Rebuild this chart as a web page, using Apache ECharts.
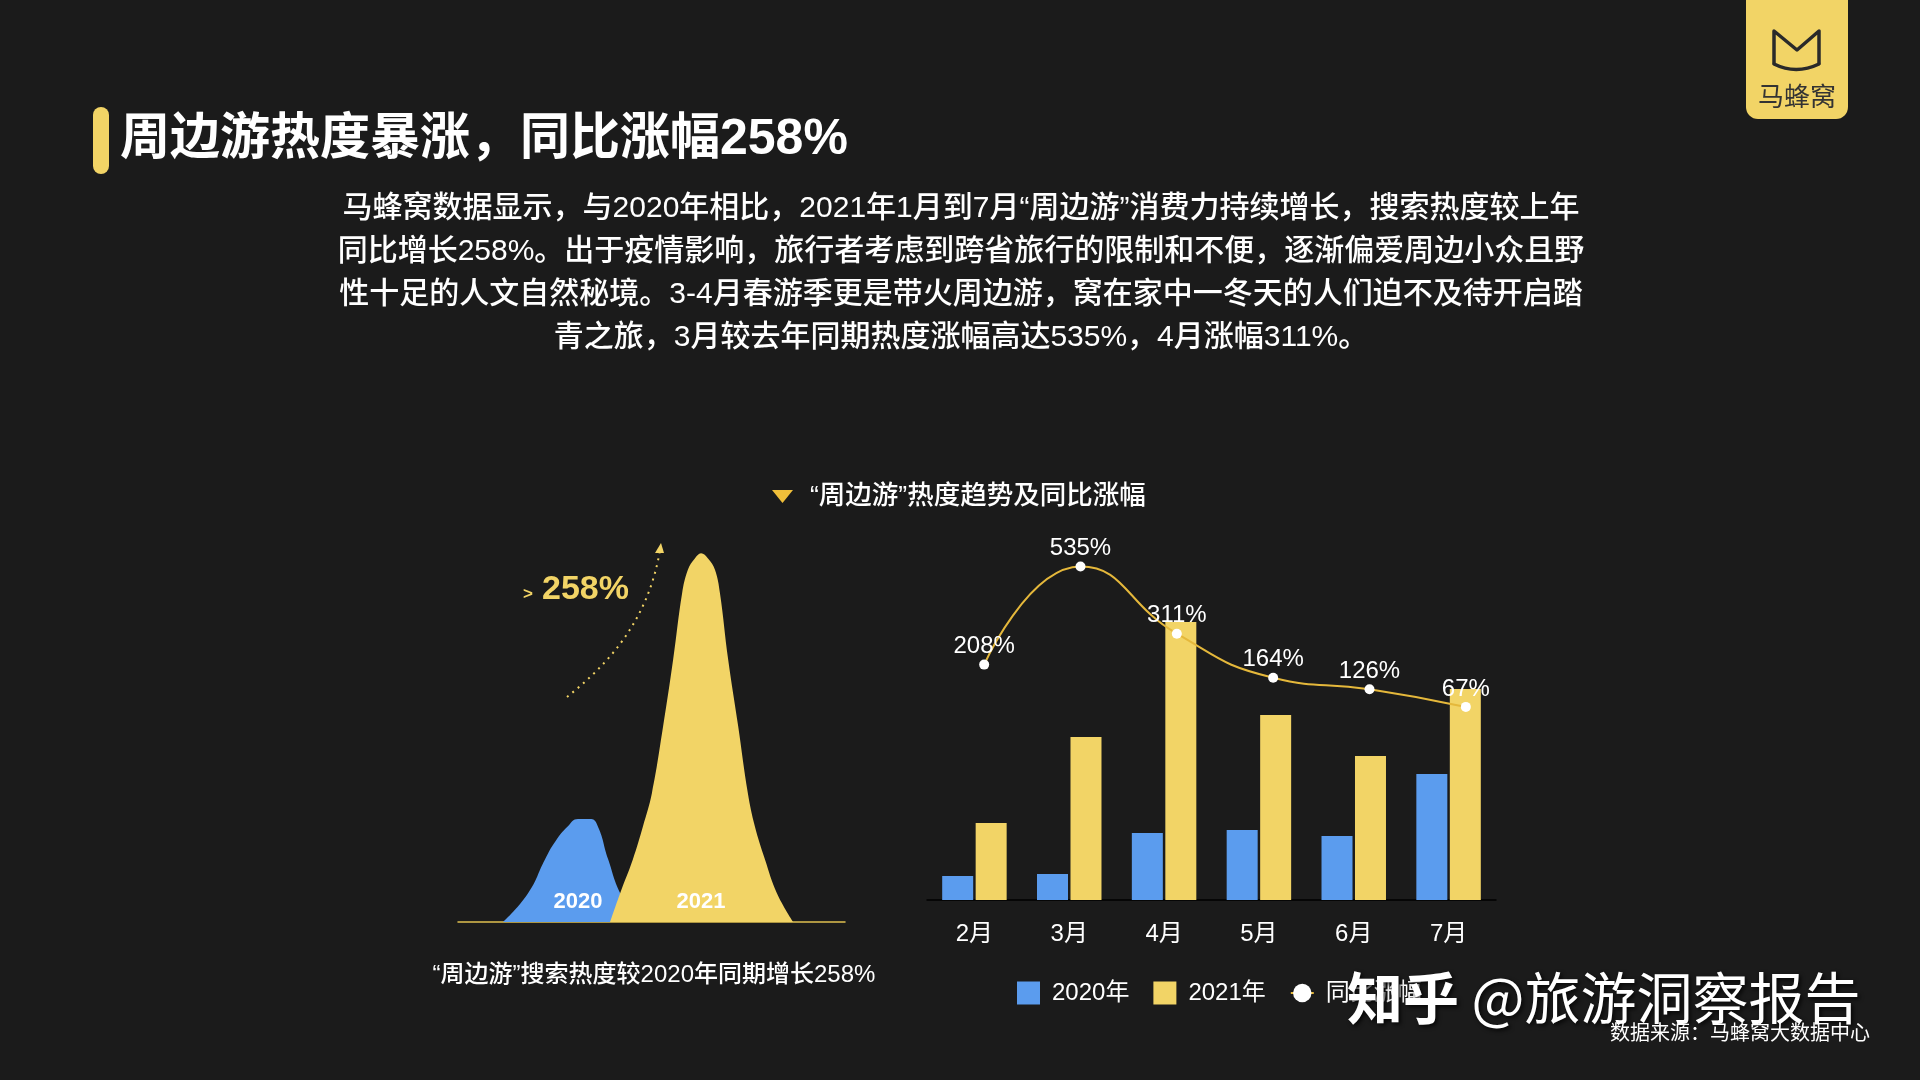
<!DOCTYPE html>
<html>
<head>
<meta charset="utf-8">
<script src="https://cdn.jsdelivr.net/npm/echarts@6/dist/echarts.min.js"></script>
<style>
  html, body { margin: 0; padding: 0; background: #1b1b1b; }
  #chart { width: 1920px; height: 1080px; }
</style>
</head>
<body>
<div id="chart"></div>
<script>
// 月度热度（柱）与同比涨幅（线）
const months = ["2月", "3月", "4月", "5月", "6月", "7月"];
const heat2020 = [24, 26, 67, 70, 64, 126];
const heat2021 = [77, 163, 278, 185, 144, 211];
const yoyGrowth = [208, 535, 311, 164, 126, 67];

// 左侧两座"山峰"：轮廓点 [x, 热度]
const curve2020 = [
  [11.6, 0], [18.1, 28], [22.5, 61], [25.1, 78], [28.4, 93], [31.0, 100],
  [34.1, 100], [35.9, 95], [38.8, 61], [41.9, 28], [45.0, 10], [49.6, 0]
];
const curve2021 = [
  [39.3, 0], [41.9, 28], [45.2, 61], [47.8, 93], [50.1, 125], [53.0, 190],
  [55.6, 255], [57.9, 319], [59.4, 342], [61.2, 353], [62.8, 358], [64.6, 353],
  [66.4, 342], [67.7, 319], [69.8, 255], [72.4, 190], [74.9, 125], [76.7, 93],
  [79.3, 61], [82.4, 28], [86.6, 0]
];

const BLUE = "#5b9cee";
const YELLOW = "#f2d466";
const GOLD = "#e5b83b";
const FONT = "'Liberation Sans', 'Noto Sans CJK SC'";
const CJK = "'Noto Sans CJK SC'";

const chart = echarts.init(document.getElementById("chart"));
window.addEventListener("resize", () => chart.resize());

chart.setOption({
  backgroundColor: "#1b1b1b",
  textStyle: { fontFamily: FONT },
  animation: false,
  legend: {
    data: [
      { name: "2020年", icon: "rect" },
      { name: "2021年", icon: "rect" },
      { name: "同比涨幅" },
    ],
    left: 1012,
    top: 976,
    itemWidth: 23,
    itemHeight: 23,
    itemGap: 24,
    textStyle: { color: "#fff", fontSize: 24, fontFamily: FONT, padding: [0, 0, 0, 7] },
  },
  grid: [
    { left: 927, right: 424, top: 600, bottom: 180 },
    { left: 936, right: 406, top: 547, bottom: 353 },
    { left: 458, right: 1075, top: 510, bottom: 158 },
  ],
  xAxis: [
    {
      type: "category",
      gridIndex: 0,
      data: months,
      axisLine: { lineStyle: { color: "#000", width: 1.5 } },
      axisTick: { show: false },
      axisLabel: { color: "#fff", fontSize: 24, margin: 22, fontFamily: FONT },
    },
    { type: "category", gridIndex: 1, data: months, show: false },
    {
      type: "value",
      gridIndex: 2,
      min: 0,
      max: 100,
      axisLine: { show: true, lineStyle: { color: "#e0c050", width: 1.5 } },
      axisTick: { show: false },
      axisLabel: { show: false },
      splitLine: { show: false },
    },
  ],
  yAxis: [
    { type: "value", gridIndex: 0, min: 0, max: 300, show: false },
    { type: "value", gridIndex: 1, min: 0, max: 600, show: false },
    { type: "value", gridIndex: 2, min: 0, max: 400, show: false },
  ],
  series: [
    {
      type: "bar",
      name: "2020年",
      xAxisIndex: 0,
      yAxisIndex: 0,
      data: heat2020,
      barWidth: 31,
      barGap: "8%",
      itemStyle: { color: BLUE },
    },
    {
      type: "bar",
      name: "2021年",
      xAxisIndex: 0,
      yAxisIndex: 0,
      data: heat2021,
      barWidth: 31,
      barGap: "8%",
      itemStyle: { color: YELLOW },
    },
    {
      type: "line",
      name: "同比涨幅",
      xAxisIndex: 1,
      yAxisIndex: 1,
      data: yoyGrowth,
      smooth: 0.5,
      symbol: "circle",
      symbolSize: 10,
      z: 5,
      lineStyle: { color: GOLD, width: 2 },
      itemStyle: { color: "#fff" },
      label: {
        show: true,
        position: "top",
        distance: 1,
        formatter: "{c}%",
        color: "#fff",
        fontSize: 24,
        fontFamily: FONT,
      },
    },
    {
      type: "line",
      xAxisIndex: 2,
      yAxisIndex: 2,
      data: curve2020,
      smooth: 0.5,
      showSymbol: false,
      lineStyle: { width: 0 },
      areaStyle: { color: BLUE, opacity: 1 },
      z: 2,
    },
    {
      type: "line",
      xAxisIndex: 2,
      yAxisIndex: 2,
      data: curve2021,
      smooth: 0.4,
      showSymbol: false,
      lineStyle: { width: 0 },
      areaStyle: { color: YELLOW, opacity: 1 },
      z: 3,
    },
  ],
  graphic: [
    // 标题
    { type: "rect", shape: { x: 93, y: 107, width: 16, height: 67, r: 8 }, style: { fill: YELLOW } },
    {
      type: "text", x: 120, y: 140,
      style: { text: "周边游热度暴涨，同比涨幅258%", fill: "#fff", font: "bold 50px " + FONT, textVerticalAlign: "middle" },
    },
    {
      type: "text", x: 961, y: 273,
      style: {
        text: "马蜂窝数据显示，与2020年相比，2021年1月到7月“周边游”消费力持续增长，搜索热度较上年\n同比增长258%。出于疫情影响，旅行者考虑到跨省旅行的限制和不便，逐渐偏爱周边小众且野\n性十足的人文自然秘境。3-4月春游季更是带火周边游，窝在家中一冬天的人们迫不及待开启踏\n青之旅，3月较去年同期热度涨幅高达535%，4月涨幅311%。",
        fill: "#fff", font: "500 30px " + FONT, lineHeight: 43,
        textAlign: "center", textVerticalAlign: "middle",
      },
    },
    // 副标题
    { type: "polygon", shape: { points: [[772, 490], [793, 490], [782.5, 503]] }, style: { fill: "#f0bf3a" } },
    {
      type: "text", x: 810, y: 497,
      style: { text: "“周边游”热度趋势及同比涨幅", fill: "#fff", font: "500 26.5px " + FONT, textVerticalAlign: "middle" },
    },
    // 左侧装饰
    {
      type: "bezierCurve",
      shape: { x1: 567, y1: 697, cpx1: 607, cpy1: 665, cpx2: 648, cpy2: 622, x2: 660, y2: 550 },
      style: { stroke: YELLOW, lineWidth: 2, lineDash: [2, 5], fill: null },
    },
    { type: "polygon", shape: { points: [[655, 553], [664, 553], [661, 543]] }, style: { fill: YELLOW } },
    { type: "text", x: 523, y: 594, style: { text: ">", fill: YELLOW, font: "bold 17px " + FONT, textVerticalAlign: "middle" } },
    { type: "text", x: 542, y: 590, style: { text: "258%", fill: YELLOW, font: "bold 34px " + FONT, textVerticalAlign: "middle" } },
    { type: "text", x: 578, y: 902, z: 10, style: { text: "2020", fill: "#fff", font: "bold 22px " + FONT, textAlign: "center", textVerticalAlign: "middle" } },
    { type: "text", x: 701, y: 902, z: 10, style: { text: "2021", fill: "#fff", font: "bold 22px " + FONT, textAlign: "center", textVerticalAlign: "middle" } },
    {
      type: "text", x: 654, y: 975,
      style: { text: "“周边游”搜索热度较2020年同期增长258%", fill: "#fff", font: "500 24px " + FONT, textAlign: "center", textVerticalAlign: "middle" },
    },
    // 马蜂窝 logo
    { type: "rect", shape: { x: 1746, y: -14, width: 102, height: 133, r: 12 }, style: { fill: YELLOW } },
    {
      type: "polyline",
      shape: { points: [[1774, 63], [1774, 31], [1797, 50], [1819, 31], [1819, 63]] },
      style: { stroke: "#2a2a2a", lineWidth: 3.5, fill: null, lineJoin: "round", lineCap: "round" },
    },
    {
      type: "bezierCurve",
      shape: { x1: 1774, y1: 64, cpx1: 1796, cpy1: 75, x2: 1819, y2: 64 },
      style: { stroke: "#2a2a2a", lineWidth: 3.5, fill: null, lineCap: "round" },
    },
    { type: "text", x: 1797, y: 96, style: { text: "马蜂窝", fill: "#333", font: "26px " + CJK, textAlign: "center", textVerticalAlign: "middle" } },
    // 水印与来源
    {
      type: "text", x: 1347, y: 998, z: 100,
      style: {
        text: "{a|知乎} @旅游洞察报告",
        fill: "#fff", fontSize: 56, fontFamily: CJK, textVerticalAlign: "middle",
        textShadowColor: "rgba(0,0,0,0.8)", textShadowBlur: 4, textShadowOffsetX: 2, textShadowOffsetY: 2,
        rich: { a: { fontSize: 56, fontWeight: "bold", fontFamily: CJK, fill: "#fff" } },
      },
    },
    { type: "text", x: 1870, y: 1032, z: 100, style: { text: "数据来源：马蜂窝大数据中心", fill: "#fff", font: "20px " + CJK, textAlign: "right", textVerticalAlign: "middle" } },
  ],
});
</script>
</body>
</html>
